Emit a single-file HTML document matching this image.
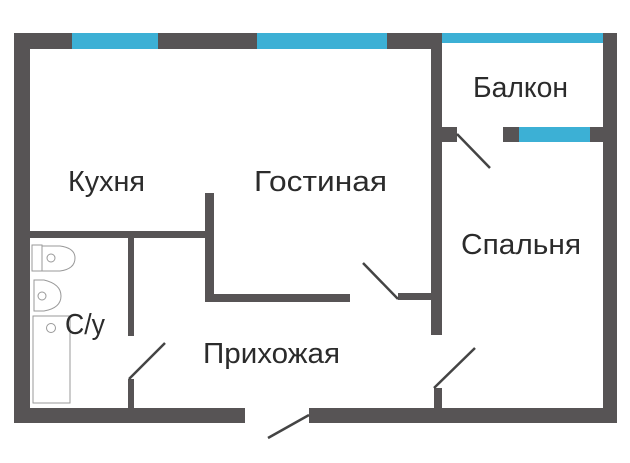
<!DOCTYPE html>
<html><head><meta charset="utf-8"><style>
html,body{margin:0;padding:0;background:#fff;}
svg{display:block}
text{font-family:"Liberation Sans",sans-serif;fill:#2b2b2b;font-size:29px}
</style></head><body>
<svg width="630" height="463" viewBox="0 0 630 463" xmlns="http://www.w3.org/2000/svg">
<g fill="#575455">
<rect x="14" y="33" width="16" height="390"/>
<rect x="14" y="33" width="58" height="16"/>
<rect x="158" y="33" width="99" height="16"/>
<rect x="387" y="33" width="55" height="16"/>
<rect x="431" y="33" width="11" height="302"/>
<rect x="603" y="33" width="14" height="390"/>
<rect x="442" y="127" width="15" height="15"/>
<rect x="503" y="127" width="16" height="15"/>
<rect x="590" y="127" width="13" height="15"/>
<rect x="14" y="408" width="231" height="15"/>
<rect x="309" y="408" width="308" height="15"/>
<rect x="30" y="231" width="180" height="7"/>
<rect x="205" y="193" width="9" height="109"/>
<rect x="205" y="294" width="145" height="8"/>
<rect x="398" y="293" width="34" height="7"/>
<rect x="128" y="237" width="6" height="99"/>
<rect x="128" y="379" width="6" height="29"/>
<rect x="434" y="388" width="8" height="20"/>
</g>
<g fill="#3cb0d5">
<rect x="72" y="33" width="86" height="16"/>
<rect x="257" y="33" width="130" height="16"/>
<rect x="442" y="33" width="161" height="10"/>
<rect x="519" y="127" width="71" height="15"/>
</g>
<g stroke="#444" stroke-width="2.5" fill="none">
<line x1="457" y1="134" x2="490" y2="168"/>
<line x1="363" y1="263" x2="398" y2="299"/>
<line x1="165" y1="343" x2="129" y2="379"/>
<line x1="475" y1="348" x2="434" y2="388"/>
<line x1="309" y1="415" x2="268" y2="438"/>
</g>
<g stroke="#999" stroke-width="1" fill="none">
<rect x="32" y="245" width="10" height="26"/>
<path d="M42 246 L60 246 Q75 248 75 258 Q75 269 60 271 L42 271 Z"/>
<circle cx="51" cy="258" r="4"/>
<path d="M34 280 L44 280 Q61 284 61 296 Q61 308 44 311 L34 311 Z"/>
<circle cx="42" cy="296" r="4"/>
<rect x="33" y="316" width="37" height="87"/>
<circle cx="51" cy="328" r="4.5"/>
</g>
<text x="68" y="191" textLength="77" lengthAdjust="spacingAndGlyphs">Кухня</text>
<text x="254" y="191" textLength="133" lengthAdjust="spacingAndGlyphs">Гостиная</text>
<text x="473" y="97" textLength="95" lengthAdjust="spacingAndGlyphs">Балкон</text>
<text x="461" y="254" textLength="120" lengthAdjust="spacingAndGlyphs">Спальня</text>
<text x="65" y="334" textLength="40" lengthAdjust="spacingAndGlyphs">С/у</text>
<text x="203" y="363" textLength="137" lengthAdjust="spacingAndGlyphs">Прихожая</text>
</svg>
</body></html>
